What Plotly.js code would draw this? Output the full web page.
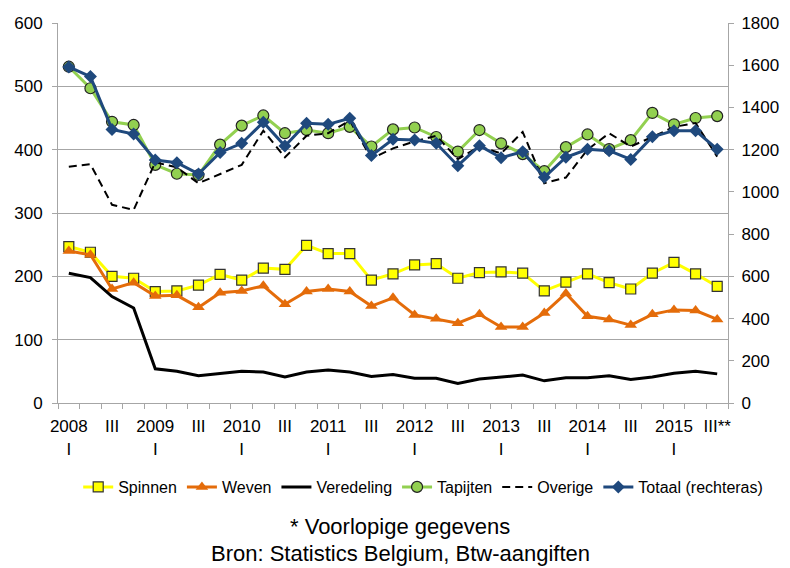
<!DOCTYPE html>
<html>
<head>
<meta charset="utf-8">
<script src="https://cdn.plot.ly/plotly-3.0.1.min.js"></script>
<style>html,body{margin:0;padding:0;background:#fff;}#chart{width:790px;height:568px;}</style>
</head>
<body>
<div id="chart"></div>
<script>
// Quarters 2008 Q1 .. 2015 Q3
var quarters = [
  "2008 I","2008 II","2008 III","2008 IV",
  "2009 I","2009 II","2009 III","2009 IV",
  "2010 I","2010 II","2010 III","2010 IV",
  "2011 I","2011 II","2011 III","2011 IV",
  "2012 I","2012 II","2012 III","2012 IV",
  "2013 I","2013 II","2013 III","2013 IV",
  "2014 I","2014 II","2014 III","2014 IV",
  "2015 I","2015 II","2015 III"
];
var tickLabels = ["2008<br>I","III","2009<br>I","III","2010<br>I","III","2011<br>I","III",
  "2012<br>I","III","2013<br>I","III","2014<br>I","III","2015<br>I","III**"];

var spinnen = [247,238,200,197,176,177,186,203,194,213,211,249,236,236,194,204,
  218,220,197,206,207,205,177,191,204,190,180,205,222,204,184];
var weven = [240,234,180,190,169,170,151,174,177,185,156,176,180,176,153,166,
  139,133,126,140,120,120,142,173,137,132,123,140,147,146,132];
var veredeling = [205,198,168,150,54,50,43,47,50,49,41,49,52,49,42,45,
  39,39,31,38,41,44,35,40,40,43,37,41,47,50,46];
var tapijten = [531,497,444,439,376,362,360,408,438,454,426,431,426,436,405,432,
  435,420,397,431,410,393,366,404,424,401,415,458,440,450,453];
var overige = [373,377,313,305,380,372,347,362,376,430,388,422,426,446,386,402,
  413,422,385,405,394,428,347,356,400,426,405,420,436,442,389];
var totaal = [1592,1546,1296,1274,1151,1138,1085,1187,1230,1330,1217,1325,1320,1349,1172,1249,
  1246,1230,1124,1219,1162,1190,1069,1164,1202,1195,1154,1261,1290,1290,1202];

var xs = quarters.map(function(q,i){return i;});
var tickVals = [];
for (var i = 0; i < quarters.length; i += 2) tickVals.push(i);

var FONT = '"Liberation Sans", Arial, sans-serif';
var AXC = "#A6A6A6";

var traces = [
  {x: xs, y: spinnen, name: "Spinnen", mode: "lines+markers", text: quarters,
   line: {color: "#FFFF00", width: 3},
   marker: {symbol: "square", size: 10, color: "#FFFF00", line: {color: "#333333", width: 1.2}}},
  {x: xs, y: weven, name: "Weven", mode: "lines+markers", text: quarters,
   line: {color: "#E46C0A", width: 3},
   marker: {symbol: "triangle-up", size: 11, color: "#E46C0A", line: {width: 0}}},
  {x: xs, y: veredeling, name: "Veredeling", mode: "lines", text: quarters,
   line: {color: "#000000", width: 3}},
  {x: xs, y: tapijten, name: "Tapijten", mode: "lines+markers", text: quarters,
   line: {color: "#92D050", width: 3},
   marker: {symbol: "circle", size: 11, color: "#92D050", line: {color: "#222222", width: 1.2}}},
  {x: xs, y: overige, name: "Overige", mode: "lines", text: quarters,
   line: {color: "#000000", width: 2, dash: "8px,5px"}},
  {x: xs, y: totaal, name: "Totaal (rechteras)", mode: "lines+markers", yaxis: "y2", text: quarters,
   line: {color: "#1F497D", width: 3},
   marker: {symbol: "diamond", size: 10, color: "#1F497D", line: {width: 0}}}
];

var layout = {
  width: 790, height: 568,
  margin: {l: 58, r: 62, t: 23, b: 165},
  paper_bgcolor: "#ffffff", plot_bgcolor: "#ffffff",
  font: {family: FONT, size: 16, color: "#000000"},
  showlegend: true,
  legend: {orientation: "h", x: 1.06, xanchor: "right", y: -0.221, yanchor: "middle",
    font: {family: FONT, size: 16, color: "#000"}, itemwidth: 30, tracegroupgap: 0},
  xaxis: {
    range: [-0.5, quarters.length - 0.5],
    tickmode: "array", tickvals: tickVals, ticktext: tickLabels,
    ticks: "", showgrid: false, zeroline: false,
    showline: true, linecolor: AXC, linewidth: 1,
    ticklabelstandoff: 8,
    tickfont: {family: FONT, size: 17, color: "#000"},
    minor: {tick0: -0.5, dtick: 1, ticks: "outside", ticklen: 5, tickcolor: AXC, showgrid: false}
  },
  yaxis: {
    range: [0, 600], dtick: 100, tick0: 0,
    showgrid: true, gridcolor: AXC, gridwidth: 1,
    zeroline: false, showline: true, linecolor: AXC, linewidth: 1,
    ticks: "outside", ticklen: 5, tickcolor: AXC, ticklabelstandoff: 6,
    tickfont: {family: FONT, size: 17, color: "#000"}
  },
  yaxis2: {
    range: [0, 1800], dtick: 200, tick0: 0, overlaying: "y", side: "right",
    showgrid: false, zeroline: false, showline: true, linecolor: AXC, linewidth: 1,
    ticks: "outside", ticklen: 5, tickcolor: AXC, ticklabelstandoff: 4,
    tickfont: {family: FONT, size: 17, color: "#000"}
  },
  annotations: [
    {text: "* Voorlopige gegevens", xref: "paper", yref: "paper", x: 0.511, y: -0.326,
     xanchor: "center", yanchor: "middle", showarrow: false, font: {family: FONT, size: 22, color: "#000"}},
    {text: "Bron: Statistics Belgium, Btw-aangiften", xref: "paper", yref: "paper", x: 0.511, y: -0.395,
     xanchor: "center", yanchor: "middle", showarrow: false, font: {family: FONT, size: 22, color: "#000"}}
  ]
};

Plotly.newPlot("chart", traces, layout, {displayModeBar: false, staticPlot: true});
</script>
</body>
</html>
